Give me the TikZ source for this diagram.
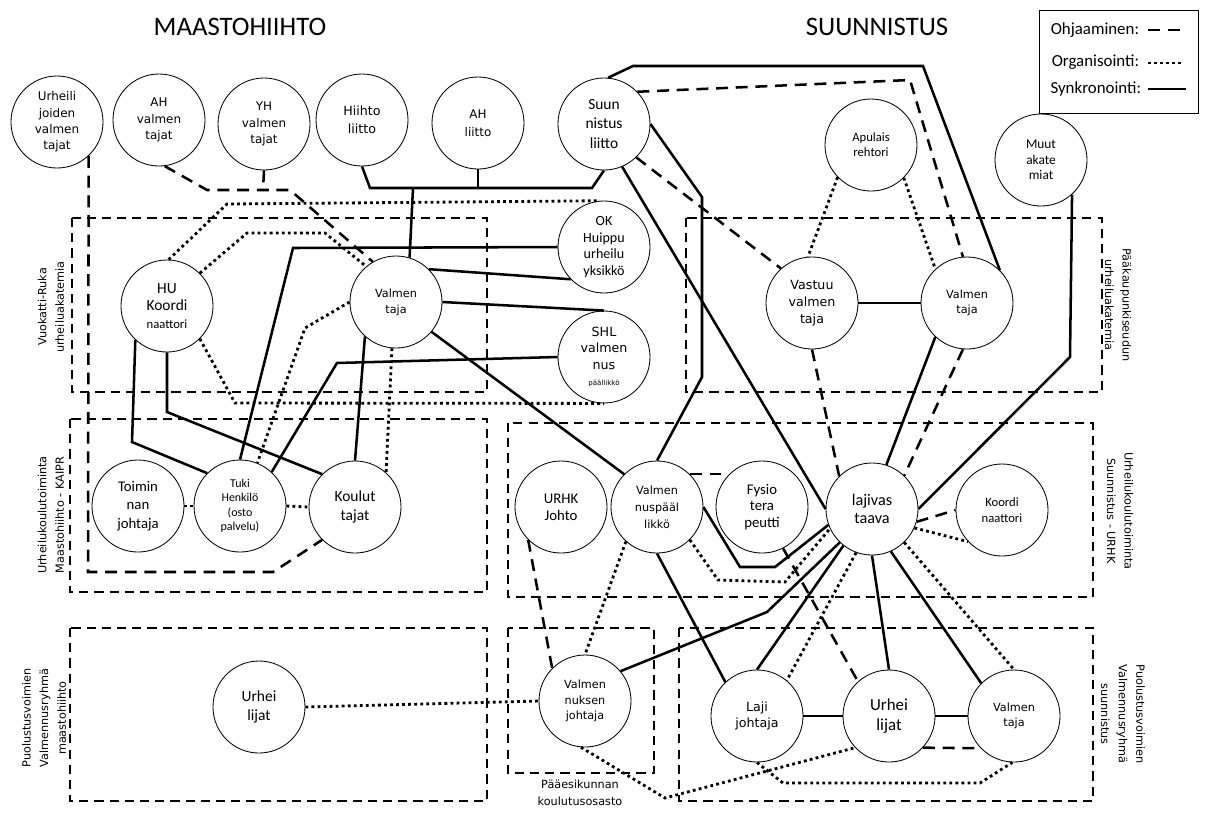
\documentclass[tikz,border=0pt]{standalone}
\usepackage{fontspec}
\setmainfont{Carlito}
\newfontfamily\verdfont{DejaVu Sans}
\newcommand{\verd}[2]{\verdfont\fontsize{#1}{#2}\selectfont}
\newcommand{\cali}[2]{\fontsize{#1}{#2}\selectfont}

\tikzset{
  circ/.style={draw, circle, line width=0.6pt, minimum size=2.3cm, inner sep=0pt, align=center},
  ryhma/.style={line width=1.3pt, dash pattern=on 6.5pt off 4.3pt},
  ohj/.style={line width=1.8pt, dash pattern=on 8.5pt off 5.5pt},
  org/.style={line width=2pt, dash pattern=on 2pt off 2.3pt},
  syn/.style={line width=1.8pt},
  sivu/.style={align=center, font=\verd{8}{12.5}},
}

\begin{document}
\begin{tikzpicture}[x=0.025cm, y=-0.025cm]
\useasboundingbox (0,0) rectangle (1210,812);

% ryhmat
\draw[ryhma] (72,218) rectangle (487,392);
\draw[ryhma] (686,218) rectangle (1102,392);
\draw[ryhma] (70,419) rectangle (487,592);
\draw[ryhma] (508,423) rectangle (1093,597);
\draw[ryhma] (70,628) rectangle (487,801);
\draw[ryhma] (508,628) rectangle (654,773);
\draw[ryhma] (679,628) rectangle (1093,801);

\node[font=\cali{19}{22}] (maasto) at (240,27) {MAASTOHIIHTO};
\node[font=\cali{19}{22}] (suunn) at (877,27) {SUUNNISTUS};

\node[sivu, rotate=90] (vuok) at (51,307) {Vuokatti-Ruka\\urheiluakatemia};
\node[sivu, rotate=90] (kaipr) at (51,515) {Urheilukoulutoiminta\\Maastohiihto - KAIPR};
\node[sivu, rotate=90] (pvm) at (44,718) {Puolustusvoimien\\Valmennusryhmä\\maastohiihto};
\node[sivu, rotate=-90] (pk) at (1118,305) {Pääkaupunkiseudun\\urheiluakatemia};
\node[sivu, rotate=-90] (urhk) at (1120,511) {Urheilukoulutoiminta\\Suunnistus - URHK};
\node[sivu, rotate=-90] (pvs) at (1123,714) {Puolustusvoimien\\Valmennusryhmä\\suunnistus};
\node[sivu] (pe) at (580,793) {Pääesikunnan\\koulutusosasto};

% selite
\draw[line width=0.6pt] (1039,10) rectangle (1198,113);
\node[anchor=east, font=\cali{12}{14}] (lo) at (1144,30) {Ohjaaminen:};
\node[anchor=east, font=\cali{12}{14}] (lg) at (1144,62) {Organisointi:};
\node[anchor=east, font=\cali{12}{14}] (ls) at (1146,89) {Synkronointi:};
\draw[ohj] (lo.east) ++(4,0) -- ++(38,0);
\draw[org] (lg.east) ++(4,1) -- ++(35,0);
\draw[syn] (ls.east) ++(2,0) -- ++(38,0);

% ylarivi
\node[circ, font=\verd{8.5}{11.7}] (UJV) at (57,122) {Urheili\\joiden\\valmen\\tajat};
\node[circ, font=\verd{8.5}{12}] (AHV) at (159,120) {AH\\valmen\\tajat};
\node[circ, font=\verd{8.5}{12}] (YHV) at (264,124) {YH\\valmen\\tajat};
\node[circ, font=\verd{9}{13}] (HL) at (362,120) {Hiihto\\liitto};
\node[circ, font=\verd{8.5}{13}] (AHL) at (478,123) {AH\\liitto};
\node[circ, font=\cali{11}{14}] (SL) at (604,124) {Suun\\nistus\\liitto};
\node[circ, font=\cali{9}{10.5}] (AR) at (871,145) {Apulais\\rehtori};
\node[circ, font=\cali{9.5}{11}] (MA) at (1041,160) {Muut\\akate\\miat};

% akatemiat
\node[circ, font=\cali{11}{12.5}] (HU) at (167,306) {HU\\Koordi\\{\cali{9}{12}naattori}};
\node[circ, font=\verd{8}{11.5}] (VT1) at (396,302) {Valmen\\taja};
\node[circ, font=\cali{10}{11.8}] (OK) at (604,247) {OK\\Huippu\\urheilu\\yksikkö};
\node[circ, font=\verd{9}{11.8}] (SHL) at (604,357) {SHL\\valmen\\nus\\{\verd{5}{8}päällikkö}};
\node[circ, font=\verd{9}{12}] (VV) at (812,303) {Vastuu\\valmen\\taja};
\node[circ, font=\verd{8}{11}] (VT2) at (967,303) {Valmen\\taja};

% urheilukoulutoiminta
\node[circ, font=\cali{10.5}{13}] (Toimin) at (138,506) {Toimin\\nan\\johtaja};
\node[circ, font=\cali{8.5}{10.3}] (Tuki) at (240,506) {Tuki\\Henkilö\\(osto\\palvelu)};
\node[circ, font=\cali{11}{13}] (Koulut) at (355,507) {Koulut\\tajat};
\node[circ, font=\cali{10.5}{12}] (URHK) at (561,507) {URHK\\Johto};
\node[circ, font=\verd{8}{12}] (VNP) at (657,507) {Valmen\\nuspääl\\likkö};
\node[circ, font=\cali{10.5}{11.8}] (Fysio) at (762,507) {Fysio\\tera\\peutti};
\node[circ, font=\cali{11.5}{13}] (LV) at (872,509) {lajivas\\taava};
\node[circ, font=\cali{9}{11}] (KN) at (1002,510) {Koordi\\naattori};

% puolustusvoimat
\node[circ, font=\cali{11}{13}] (UL1) at (259,707) {Urhei\\lijat};
\node[circ, font=\verd{8}{11}] (VNJ) at (585,701) {Valmen\\nuksen\\johtaja};
\node[circ, font=\verd{9}{12}] (LJ) at (757,716) {Laji\\johtaja};
\node[circ, font=\cali{12}{14}] (UL2) at (889,716) {Urhei\\lijat};
\node[circ, font=\verd{8}{11}] (VT3) at (1014,716) {Valmen\\taja};

% synkronointi
\draw[syn] (HL.south) -- (370,188) -- (592,188) -- (SL.south);
\draw[syn] (AHL.south) -- (478,188);
\draw[syn] (413,188) -- (VT1.73);
\draw[syn] (SL.85) -- (633,66) -- (923,66) -- (VT2.45);
\draw[syn] (SL.east) -- (702,197) -- (702,377) -- (VNP.north);
\draw[syn] (SL.-67) -- (LV.west);
\draw[syn] (Tuki.north) -- (293,248) -- (OK.west);
\draw[syn] (VT1.45) -- (OK.224);
\draw[syn] (VT1.east) -- (SHL.north);
\draw[syn] (Tuki.47) -- (337,363) -- (SHL.west);
\draw[syn] (VT1.-40) -- (VNP.135);
\draw[syn] (VT1.-132) -- (Koulut.north);
\draw[syn] (HU.-133) -- (132,442) -- (Tuki.135);
\draw[syn] (HU.south) -- (167,412) -- (Koulut.135);
\draw[syn] (VV.east) -- (VT2.west);
\draw[syn] (VT2.-133) -- (LV.72);
\draw[syn] (MA.-48) -- (1070,357) -- (LV.east);
\draw[syn] (VNP.east) -- (740,567) -- (775,567) -- (LV.200);
\draw[syn] (VNP.south) -- (LJ.133);
\draw[syn] (LV.-134) -- (767,612) -- (VNJ.40);
\draw[syn] (LV.-128) -- (LJ.north);
\draw[syn] (LV.south) -- (UL2.north);
\draw[syn] (LV.-66) -- (VT3.135);
\draw[syn] (LJ.east) -- (UL2.west);
\draw[syn] (UL2.east) -- (VT3.west);

% ohjaaminen
\draw[ohj] (UJV.-47) -- (88,572) -- (273,572) -- (Koulut.-135);
\draw[ohj] (AHV.-83) -- (207,190) -- (290,190) -- (VT1.120);
\draw[ohj] (YHV.south) -- (263,190);
\draw[ohj] (SL.44) -- (910,80) -- (VT2.95);
\draw[ohj] (SL.-46) -- (VV.132);
\draw[ohj] (VV.south) -- (LV.135);
\draw[ohj] (VT2.-95) -- (LV.46);
\draw[ohj] (VNP.45) -- (Fysio.135);
\draw[ohj] (URHK.-135) -- (VNJ.135);
\draw[ohj] (LV.-16) -- (KN.west);
\draw[ohj] (Fysio.-63) -- (UL2.132);
\draw[ohj] (UL2.-43) -- (VT3.-136);

% organisointi
\draw[org] (HU.88) -- (227,204) -- (OK.95);
\draw[org] (HU.45) -- (247,233) -- (325,233) -- (VT1.130);
\draw[org] (HU.-45) -- (235,403) -- (SHL.south);
\draw[org] (VT1.west) -- (305,328) -- (Tuki.68);
\draw[org] (VT1.-95) -- (Koulut.48);
\draw[org] (Toimin.east) -- (Tuki.west);
\draw[org] (Tuki.east) -- (Koulut.west);
\draw[org] (AR.-136) -- (VV.95);
\draw[org] (AR.-45) -- (VT2.133);
\draw[org] (UL1.east) -- (VNJ.west);
\draw[org] (VNJ.-95) -- (665,798) -- (UL2.-137);
\draw[org] (LJ.south) -- (783,783) -- (980,783) -- (VT3.-92);
\draw[org] (VNP.-45) -- (718,580) -- (785,582) -- (LV.-155);
\draw[org] (VNP.-132) -- (VNJ.north);
\draw[org] (LV.-24) -- (KN.-137);
\draw[org] (LV.-46) -- (VT3.north);
\draw[org] (LV.-110) -- (LJ.50);
\end{tikzpicture}
\end{document}
